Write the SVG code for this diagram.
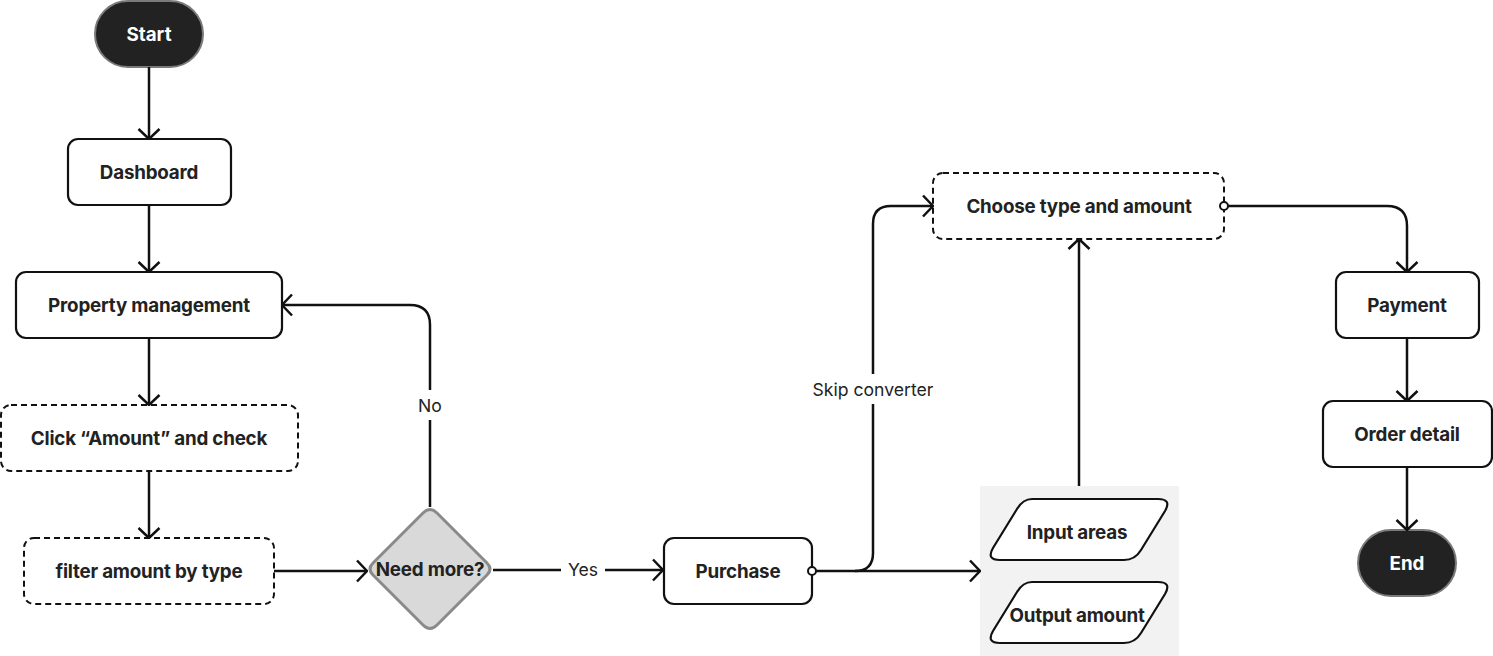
<svg xmlns="http://www.w3.org/2000/svg" width="1493" height="656" viewBox="0 0 1493 656">
<style>
.box{fill:#fff;stroke:#111;stroke-width:2.2}
.dash{fill:#fff;stroke:#111;stroke-width:2;stroke-dasharray:6 4}
.term{fill:#222;stroke:#7a7a7a;stroke-width:2}
.t{font-family:Inter,"Noto Sans",sans-serif;font-weight:700;font-size:18.8px;letter-spacing:-0.2px;fill:#222;text-anchor:middle;dominant-baseline:central}
.tw{font-family:Inter,"Noto Sans",sans-serif;font-weight:700;font-size:18.8px;fill:#fff;text-anchor:middle;dominant-baseline:central}
.lbl{font-family:Inter,"Noto Sans",sans-serif;font-weight:400;font-size:17.6px;fill:#222;text-anchor:middle;dominant-baseline:central}
.c{fill:none;stroke:#111;stroke-width:2.5}
</style>
<defs>
<marker id="arr" viewBox="0 0 12 24" refX="11" refY="12" markerWidth="12" markerHeight="24" orient="auto" markerUnits="userSpaceOnUse">
<path d="M1,1.5 L11,12 L1,22.5" fill="none" stroke="#111" stroke-width="2.5"/>
</marker>
<marker id="dot" viewBox="0 0 12 12" refX="6" refY="6" markerWidth="12" markerHeight="12" orient="auto" markerUnits="userSpaceOnUse">
<circle cx="6" cy="6" r="4" fill="#fff" stroke="#111" stroke-width="2"/>
</marker>
</defs>

<g id="start">
<rect class="term" x="95" y="1" width="108" height="66" rx="33"/>
<text class="tw" x="149" y="34">Start</text>
</g>
<g id="dashboard">
<rect class="box" x="68" y="139" width="163" height="66" rx="10"/>
<text class="t" x="149" y="172">Dashboard</text>
</g>
<g id="property">
<rect class="box" x="16" y="272" width="266" height="66" rx="10"/>
<text class="t" x="149" y="305">Property management</text>
</g>
<g id="click">
<rect class="dash" x="1" y="405" width="297" height="66" rx="10"/>
<text class="t" x="149" y="438">Click “Amount” and check</text>
</g>
<g id="filter">
<rect class="dash" x="24" y="538" width="250" height="66" rx="10"/>
<text class="t" x="149" y="571">filter amount by type</text>
</g>
<g id="need">
<path d="M423,513 Q430,506 437,513 L487,563 Q493,569 487,575 L437,625 Q430,632 423,625 L373,575 Q367,569 373,563 Z" fill="#d9d9d9" stroke="#8a8a8a" stroke-width="3"/>
<text class="t" x="430" y="569">Need more?</text>
</g>
<g id="purchase">
<rect class="box" x="664" y="538" width="148" height="66" rx="10"/>
<text class="t" x="738" y="571">Purchase</text>
</g>
<g id="converter">
<rect x="980" y="486" width="199" height="170" fill="#f2f2f2"/>
<g id="input">
<path d="M1032,499 H1158 Q1172,499 1165,511 L1141,550 Q1135,560 1124,560 H1000 Q986,560 993,548 L1017,509 Q1023,499 1032,499 Z" class="box"/>
<text class="t" x="1077" y="532">Input areas</text>
</g>
<g id="output">
<path d="M1032,582 H1158 Q1172,582 1165,594 L1141,633 Q1135,643 1124,643 H1000 Q986,643 993,631 L1017,592 Q1023,582 1032,582 Z" class="box"/>
<text class="t" x="1077" y="615">Output amount</text>
</g>
</g>
<g id="choose">
<rect class="dash" x="933" y="173" width="291" height="66" rx="10"/>
<text class="t" x="1079" y="206">Choose type and amount</text>
</g>
<g id="payment">
<rect class="box" x="1336" y="272" width="143" height="66" rx="10"/>
<text class="t" x="1407" y="305">Payment</text>
</g>
<g id="order">
<rect class="box" x="1323" y="401" width="169" height="66" rx="10"/>
<text class="t" x="1407" y="434">Order detail</text>
</g>
<g id="end">
<rect class="term" x="1358" y="530" width="98" height="66" rx="33"/>
<text class="tw" x="1407" y="563">End</text>
</g>

<g id="connectors">
<path class="c" d="M149,67 V139" marker-end="url(#arr)"/>
<path class="c" d="M149,205 V272" marker-end="url(#arr)"/>
<path class="c" d="M149,338 V405" marker-end="url(#arr)"/>
<path class="c" d="M149,471 V538" marker-end="url(#arr)"/>
<path class="c" d="M274,571 H367" marker-end="url(#arr)"/>
<path class="c" d="M430,507 V325 Q430,305 410,305 H282" marker-end="url(#arr)"/>
<path class="c" d="M493,570 H663" marker-end="url(#arr)"/>
<path class="c" d="M855,571 Q873,571 873,553 V224 Q873,206 891,206 H933" marker-end="url(#arr)"/>
<path class="c" d="M812,571 H980" marker-start="url(#dot)" marker-end="url(#arr)"/>
<path class="c" d="M1079,486 V239" marker-end="url(#arr)"/>
<path class="c" d="M1224,206 H1387 Q1407,206 1407,226 V272" marker-start="url(#dot)" marker-end="url(#arr)"/>
<path class="c" d="M1407,338 V401" marker-end="url(#arr)"/>
<path class="c" d="M1407,467 V530" marker-end="url(#arr)"/>
<rect x="410" y="390" width="40" height="30" fill="#fff"/>
<text class="lbl" x="430" y="405">No</text>
<rect x="561" y="552" width="44" height="32" fill="#fff"/>
<text class="lbl" x="583" y="569">Yes</text>
<rect x="802" y="374" width="142" height="30" fill="#fff"/>
<text class="lbl" x="873" y="389">Skip converter</text>
</g>
</svg>
